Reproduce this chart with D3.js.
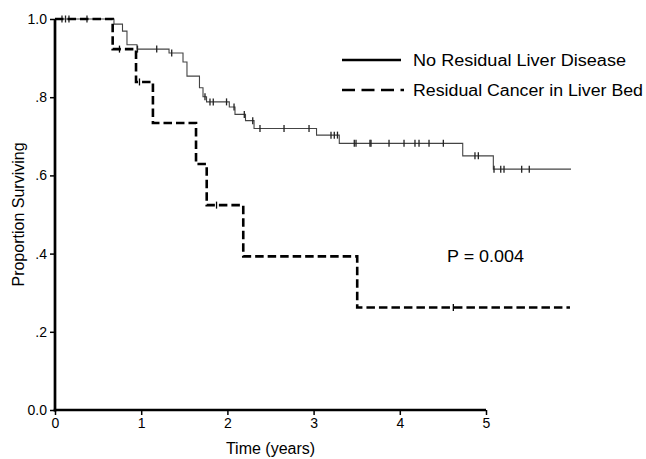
<!DOCTYPE html>
<html>
<head>
<meta charset="utf-8">
<script src="https://cdn.jsdelivr.net/npm/d3@7/dist/d3.min.js"></script>
<style>
  html, body { margin: 0; padding: 0; background: #fff; }
  svg { display: block; font-family: "Liberation Sans", Arial, sans-serif; }
</style>
</head>
<body>
<svg id="chart" width="646" height="459"></svg>
<script>
// Kaplan-Meier survival: step times (years) and survival after each step
const noResidualTimes = [0, 0.684, 0.783, 0.835, 0.951, 1.323, 1.485, 1.531, 1.676, 1.717, 1.758, 2.022, 2.088, 2.210, 2.309, 3.034, 3.298, 4.730, 5.085];
const noResidualSurv  = [1.0, 0.987, 0.969, 0.934, 0.923, 0.913, 0.890, 0.854, 0.824, 0.801, 0.788, 0.775, 0.756, 0.740, 0.720, 0.703, 0.682, 0.650, 0.616];
const noResidualCensored = [0.081, 0.122, 0.162, 0.371, 0.957, 1.180, 1.354, 1.740, 1.798, 1.836, 1.990, 2.077, 2.196, 2.294, 2.378, 2.657, 2.947, 3.202, 3.240, 3.277, 3.472, 3.492, 3.654, 3.666, 3.875, 4.049, 4.176, 4.223, 4.339, 4.505, 4.872, 4.911, 5.093, 5.171, 5.209, 5.414, 5.502];
const noResidualEnd = 5.986;

const residualTimes = [0, 0.669, 0.940, 1.136, 1.636, 1.760, 2.184, 3.506];
const residualSurv  = [1.0, 0.923, 0.839, 0.734, 0.629, 0.524, 0.393, 0.262];
const residualCensored = [0.748, 0.980, 1.874, 4.621];
const residualEnd = 5.974;

const xTicks = [0, 1, 2, 3, 4, 5];
const xTickLabels = ["0", "1", "2", "3", "4", "5"];
const yTicks = [0, 0.2, 0.4, 0.6, 0.8, 1.0];
const yTickLabels = ["0.0", ".2", ".4", ".6", ".8", "1.0"];

const legendLabels = ["No Residual Liver Disease", "Residual Cancer in Liver Bed"];
const pValueLabel = "P = 0.004";

const svg = d3.select("#chart");
const x = d3.scaleLinear().domain([0, 5]).range([55, 486]);
const y = d3.scaleLinear().domain([0, 1]).range([410, 19]);

// survival value in effect at time t
function survAt(times, surv, t) {
  let v = surv[0];
  for (let i = 0; i < times.length; i++) if (times[i] <= t) v = surv[i];
  return v;
}
function stepPoints(times, surv, end) {
  const pts = times.map((t, i) => [t, surv[i]]);
  pts.push([end, surv[surv.length - 1]]);
  return pts;
}
const line = d3.line().x(d => x(d[0])).y(d => y(d[1])).curve(d3.curveStepAfter);

// curves
svg.append("path")
  .datum(stepPoints(noResidualTimes, noResidualSurv, noResidualEnd))
  .attr("d", line).attr("fill", "none").attr("stroke", "#444").attr("stroke-width", 1.1);

svg.append("g").selectAll("line")
  .data(noResidualCensored).join("line")
  .attr("x1", d => x(d)).attr("x2", d => x(d))
  .attr("y1", d => y(survAt(noResidualTimes, noResidualSurv, d)) - 3.5)
  .attr("y2", d => y(survAt(noResidualTimes, noResidualSurv, d)) + 3.5)
  .attr("stroke", "#222").attr("stroke-width", 1.3);

svg.append("path")
  .datum(stepPoints(residualTimes, residualSurv, residualEnd))
  .attr("d", line).attr("fill", "none").attr("stroke", "#000")
  .attr("stroke-width", 2.6).attr("stroke-dasharray", "8.5,4");

svg.append("g").selectAll("line")
  .data(residualCensored).join("line")
  .attr("x1", d => x(d)).attr("x2", d => x(d))
  .attr("y1", d => y(survAt(residualTimes, residualSurv, d)) - 3.5)
  .attr("y2", d => y(survAt(residualTimes, residualSurv, d)) + 3.5)
  .attr("stroke", "#000").attr("stroke-width", 1.3);

// axes
const xAxis = svg.append("g").attr("transform", `translate(0,${y(0)})`)
  .call(d3.axisBottom(x).tickValues(xTicks).tickFormat((d, i) => xTickLabels[i]).tickSize(5).tickPadding(3));
xAxis.select(".domain").remove();
xAxis.selectAll("line").attr("stroke", "#000").attr("stroke-width", 1.5);
xAxis.selectAll("text").attr("font-size", 14).attr("font-family", "Liberation Sans, Arial, sans-serif").attr("fill", "#000");

const yAxis = svg.append("g").attr("transform", `translate(${x(0)},0)`)
  .call(d3.axisLeft(y).tickValues(yTicks).tickFormat((d, i) => yTickLabels[i]).tickSize(5).tickPadding(3));
yAxis.select(".domain").remove();
yAxis.selectAll("line").attr("stroke", "#000").attr("stroke-width", 1.5);
yAxis.selectAll("text").attr("font-size", 14).attr("font-family", "Liberation Sans, Arial, sans-serif").attr("fill", "#000");

svg.append("line").attr("x1", x(0)).attr("x2", x(0)).attr("y1", y(1)).attr("y2", y(0) + 1.5)
  .attr("stroke", "#000").attr("stroke-width", 2.7);
svg.append("line").attr("x1", x(0) - 1.3).attr("x2", x(5)).attr("y1", y(0)).attr("y2", y(0))
  .attr("stroke", "#000").attr("stroke-width", 2.7);

// axis titles
svg.append("text").attr("x", x(2.5)).attr("y", 454).attr("text-anchor", "middle")
  .attr("font-size", 16).text("Time (years)");
svg.append("text").attr("transform", `translate(24,${(y(0) + y(1)) / 2}) rotate(-90)`)
  .attr("text-anchor", "middle").attr("font-size", 16).text("Proportion Surviving");

// legend
const legend = svg.append("g");
legend.append("line").attr("x1", 342).attr("x2", 401).attr("y1", 60).attr("y2", 60)
  .attr("stroke", "#000").attr("stroke-width", 2.7);
legend.append("line").attr("x1", 342).attr("x2", 404).attr("y1", 90).attr("y2", 90)
  .attr("stroke", "#000").attr("stroke-width", 2.7).attr("stroke-dasharray", "13,6.5");
legend.append("text").attr("x", 413).attr("y", 66).attr("font-size", 16)
  .attr("textLength", 213).attr("lengthAdjust", "spacingAndGlyphs").text(legendLabels[0]);
legend.append("text").attr("x", 413).attr("y", 96).attr("font-size", 16)
  .attr("textLength", 230).attr("lengthAdjust", "spacingAndGlyphs").text(legendLabels[1]);

svg.append("text").attr("x", 447).attr("y", 262).attr("font-size", 16)
  .attr("textLength", 77).attr("lengthAdjust", "spacingAndGlyphs").text(pValueLabel);
</script>
</body>
</html>
